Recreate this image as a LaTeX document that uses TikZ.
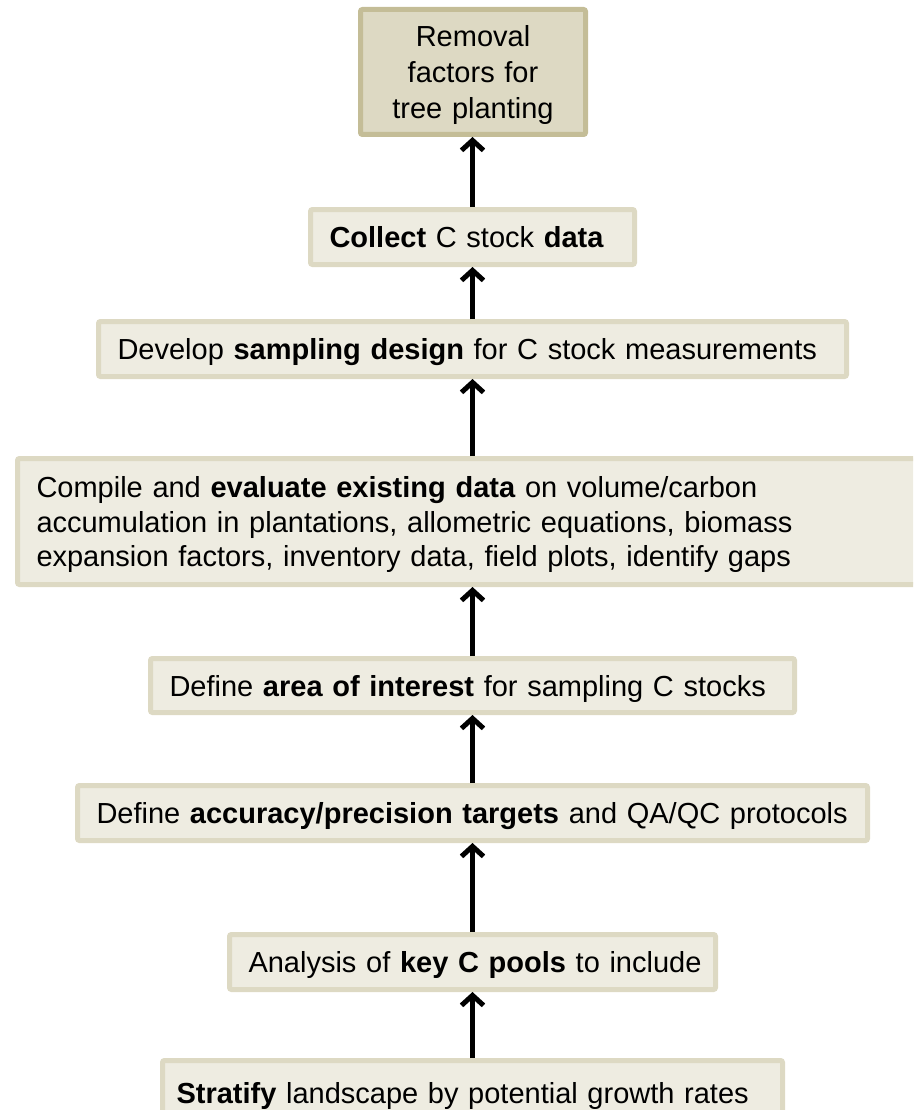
\documentclass[tikz,border=0pt]{standalone}
\usepackage{fontspec}
\setmainfont{Liberation Sans}
\usetikzlibrary{arrows.meta}
\definecolor{stagefill}{HTML}{EEECE1}
\definecolor{stageline}{HTML}{DDD9C3}
\definecolor{goalfill}{HTML}{DDD9C3}
\definecolor{goalline}{HTML}{C4BD97}

\begin{document}
\begin{tikzpicture}[x=1pt,y=-1pt,
  stage/.style={draw=stageline, fill=stagefill, line width=5pt,
    rounded corners=2pt, inner xsep=19pt, inner ysep=0pt, align=left,
    font=\fontsize{29}{34.5}\selectfont, text height=21pt, text depth=0pt},
  goal/.style={stage, draw=goalline, fill=goalfill, align=center,
    inner xsep=10pt, font=\fontsize{29}{36}\selectfont},
  up/.style={line width=5pt, -{Straight Barb[length=10pt,width=22pt]}}]

\useasboundingbox (0,0) rectangle (913,1110);
\clip (0,0) rectangle (913,1110);

% axis shared by all the arrows
\coordinate (ax) at (472.5,0);

% flow stages, from the goal at the top down to the first step
\node[goal, text width=205pt, minimum height=125pt, text depth=72pt]
  (goal) at (473,72) {Removal\\factors for\\tree planting};

\node[stage, text width=286pt, minimum height=55pt]
  (collect) at (472.5,237) {\mbox{\textbf{Collect} C stock \textbf{data}}};

\node[stage, text width=710pt, minimum height=55pt]
  (design) at (472.5,349) {\mbox{Develop \textbf{sampling design} for C stock measurements}};

\node[stage, text width=877pt, minimum height=126pt, text depth=69pt]
  (compile) at (475,521.5) {Compile and \textbf{evaluate existing data} on volume/carbon\\
  accumulation in plantations, allometric equations, biomass\\
  expansion factors, inventory data, field plots, identify gaps};

\node[stage, text width=606pt, minimum height=54pt]
  (area) at (472.5,685.5) {\mbox{Define \textbf{area of interest} for sampling C stocks}};

\node[stage, text width=752pt, minimum height=55pt]
  (accuracy) at (472.5,813) {\mbox{Define \textbf{accuracy/precision targets} and QA/QC protocols}};

\node[stage, text width=448pt, minimum height=55pt]
  (pools) at (472.5,962) {\mbox{Analysis of \textbf{key C pools} to include}};

\node[stage, inner xsep=14pt, text width=592pt, minimum height=65pt]
  (stratify) at (472.5,1093) {\mbox{\textbf{Stratify} landscape by potential growth rates}};

% arrows leading upwards from each stage to the next
\draw[up] (collect.north -| ax) -- (goal.south -| ax);
\draw[up] (design.north -| ax) -- (collect.south -| ax);
\draw[up] (compile.north -| ax) -- (design.south -| ax);
\draw[up] (area.north -| ax) -- (compile.south -| ax);
\draw[up] (accuracy.north -| ax) -- (area.south -| ax);
\draw[up] (pools.north -| ax) -- (accuracy.south -| ax);
\draw[up] (stratify.north -| ax) -- (pools.south -| ax);
\end{tikzpicture}
\end{document}
